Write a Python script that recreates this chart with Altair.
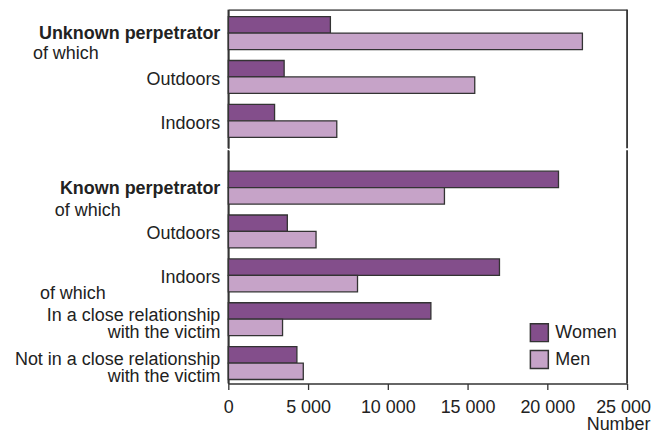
import altair as alt
import pandas as pd

# ---- data ----
rows = ["unk", "unk_out", "unk_in", "known", "known_out", "known_in", "close", "notclose"]
labels = ["Unknown perpetrator", "Outdoors", "Indoors", "Known perpetrator", "Outdoors", "Indoors",
          "In a close relationship\nwith the victim", "Not in a close relationship\nwith the victim"]
style = ["bold", "plain", "plain", "bold", "plain", "plain", "multi", "multi"]
women = [6400, 3500, 2900, 20700, 3700, 17000, 12700, 4300]
men = [22200, 15450, 6800, 13550, 5500, 8100, 3400, 4700]
sexes = ["Women", "Men"]
colors = ["#834e8b", "#c6a3c8"]
x_ticks = [0, 5000, 10000, 15000, 20000, 25000]
sub_text = ["of which", "of which", "of which"]
sub_rows = ["unk", "known", "known_in"]
groups = [rows[:3], rows[3:]]   # unknown / known perpetrator blocks

FONT = "Liberation Sans"
FS = 18
TXT = "#222222"

bars_df = pd.DataFrame(
    [{"row": r, "sex": "Women", "value": w} for r, w in zip(rows, women)]
    + [{"row": r, "sex": "Men", "value": m} for r, m in zip(rows, men)]
)
lab_df = pd.DataFrame({"row": rows, "label": labels, "style": style})
sub_df = pd.DataFrame({"row": sub_rows, "label": sub_text})

legend = alt.Legend(orient="none", legendX=302, legendY=314, title=None,
                    symbolType="square", symbolSize=324,
                    symbolStrokeColor="#333333", symbolStrokeWidth=1.5, symbolOpacity=1,
                    labelFontSize=FS, labelFont=FONT, labelColor=TXT,
                    rowPadding=3, labelOffset=6, padding=0)

sub_pos = {"unk": (-196, 21), "known": (-174, 23), "known_in": (-189, 19)}


def panel(block, height, pad_outer, align, bottom):
    yscale = alt.Scale(domain=block, paddingInner=0.25, paddingOuter=pad_outer, align=align)
    Y = alt.Y("row:N", scale=yscale, sort=block,
              axis=alt.Axis(labels=False, ticks=False, title=None, domain=True,
                            domainColor="#333333", domainWidth=1.6))
    xscale = alt.Scale(domain=[x_ticks[0], x_ticks[-1]], nice=False)
    if bottom:
        xaxis = alt.Axis(values=x_ticks, grid=False, labelOverlap=False, labelFlush=False,
                         labelExpr="replace(format(datum.value, ','), ',', ' ')",
                         labelOffset={"condition": {"test": "datum.value == 25000", "value": -4}, "value": 0},
                         title="Number", titleX=423, titleY=46, titleAlign="right",
                         titleBaseline="alphabetic", titleAngle=0)
    else:
        xaxis = alt.Axis(orient="top", labels=False, ticks=False, title=None, grid=False,
                         domainColor="#666666", domainWidth=1.8)
    sel = alt.FieldOneOfPredicate(field="row", oneOf=block)

    bars = alt.Chart(bars_df).transform_filter(sel).mark_bar(
        stroke="#333333", strokeWidth=1.3, opacity=1
    ).encode(
        x=alt.X("value:Q", scale=xscale, axis=xaxis),
        y=Y,
        yOffset=alt.YOffset("sex:N", sort=sexes,
                            scale=alt.Scale(domain=sexes, paddingInner=0, paddingOuter=0)),
        color=alt.Color("sex:N", scale=alt.Scale(domain=sexes, range=colors), legend=legend),
    )
    frame_right = alt.Chart(alt.Data(values=[{}])).mark_rule(
        color="#333333", strokeWidth=1.8
    ).encode(x=alt.X(datum=x_ticks[-1], scale=xscale))
    frame_left = alt.Chart(alt.Data(values=[{}])).mark_rule(
        color="#333333", strokeWidth=1.6
    ).encode(x=alt.X(datum=x_ticks[0], scale=xscale))

    layers = [bars, frame_right, frame_left]
    for st, weight, dy in [("bold", "bold", 1), ("plain", "normal", 3), ("multi", "normal", -3.5)]:
        layers.append(
            alt.Chart(lab_df).transform_filter(sel).transform_filter(f"datum.style == '{st}'").mark_text(
                align="right", baseline="middle", font=FONT, fontSize=FS, fontWeight=weight,
                color=TXT, dy=dy, lineBreak="\n", lineHeight=17.5,
            ).encode(x=alt.value(-8), y=Y, text="label:N")
        )
    for r in sub_rows:
        if r in block:
            xp, dy = sub_pos[r]
            layers.append(
                alt.Chart(sub_df).transform_filter(alt.datum.row == r).mark_text(
                    align="left", baseline="middle", font=FONT, fontSize=FS, color=TXT, dy=dy,
                ).encode(x=alt.value(xp), y=Y, text="label:N")
            )
    return alt.layer(*layers).properties(width=400, height=height)


top = panel(groups[0], 139, 0.2045, 0.39, False)
bottom = panel(groups[1], 234, 0.284, 0.84, True)

chart = alt.vconcat(top, bottom, spacing=0).properties(
    padding={"left": 6, "top": 0, "right": 0, "bottom": 0},
).configure_view(
    stroke=None
).configure_axis(
    domainColor="#333333", domainWidth=1.5, tickColor="#333333", tickSize=6, tickWidth=1.3,
    labelFont=FONT, labelFontSize=FS, labelColor=TXT, labelPadding=9,
    titleFont=FONT, titleFontSize=FS, titleFontWeight="normal", titleColor=TXT,
)

chart.save("out.html", embed_options={"renderer": "svg", "actions": False})
